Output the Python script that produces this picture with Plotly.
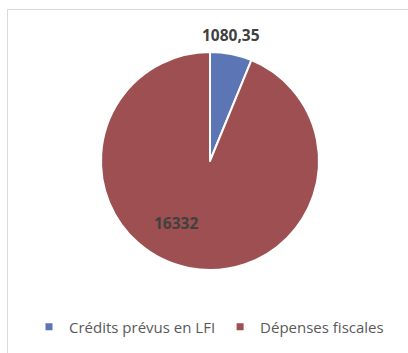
import plotly.graph_objects as go

# Budget breakdown (values as labelled on the chart)
categories = ["Crédits prévus en LFI", "Dépenses fiscales"]
values = [1080.35, 16332]
colors = ["#5C75B5", "#9D4F51"]


def fr_number(v):
    """Format a number with a French decimal comma, no grouping."""
    s = f"{v:.2f}".rstrip("0").rstrip(".")
    return s.replace(".", ",")


W, H = 408, 353

fig = go.Figure()

fig.add_trace(go.Pie(
    labels=categories,
    values=values,
    sort=False,
    direction="clockwise",
    rotation=0,
    marker=dict(colors=colors, line=dict(color="white", width=2)),
    textinfo="none",
    hoverinfo="label+value",
    showlegend=False,
    domain=dict(x=[101 / W, 319 / W], y=[1 - 270 / H, 1 - 52 / H]),
))

# Legend keys as small square markers
for name, col in zip(categories, colors):
    fig.add_trace(go.Scatter(
        x=[None], y=[None], mode="markers", name=name,
        marker=dict(symbol="square", size=7, color=col),
        showlegend=True,
    ))

label_font = dict(family="Open Sans", size=15.5, color="#404040", weight="bold")
label_pos = [(231, 35), (175.5, 223)]
for v, (px, py) in zip(values, label_pos):
    fig.add_annotation(
        x=px / W, y=1 - py / H, xref="paper", yref="paper",
        text=f"<b>{fr_number(v)}</b>", showarrow=False,
        font=label_font, xanchor="center", yanchor="middle",
    )

# Chart-area frame
fig.add_shape(
    type="rect", xref="paper", yref="paper",
    x0=7.5 / W, x1=1.1, y0=-0.1, y1=1 - 9.5 / H,
    line=dict(color="#D9D9D9", width=1), fillcolor="rgba(0,0,0,0)",
)

fig.update_layout(
    width=W, height=H,
    margin=dict(l=0, r=0, t=0, b=0),
    paper_bgcolor="white", plot_bgcolor="white",
    xaxis=dict(visible=False), yaxis=dict(visible=False),
    legend=dict(
        orientation="h", x=209 / W, xanchor="center", y=1 - 327 / H, yanchor="middle",
        font=dict(family="Open Sans", size=15, color="#595959"),
        itemwidth=30, tracegroupgap=0, bgcolor="rgba(0,0,0,0)",
    ),
    showlegend=True,
)

fig.write_html("out.html")
